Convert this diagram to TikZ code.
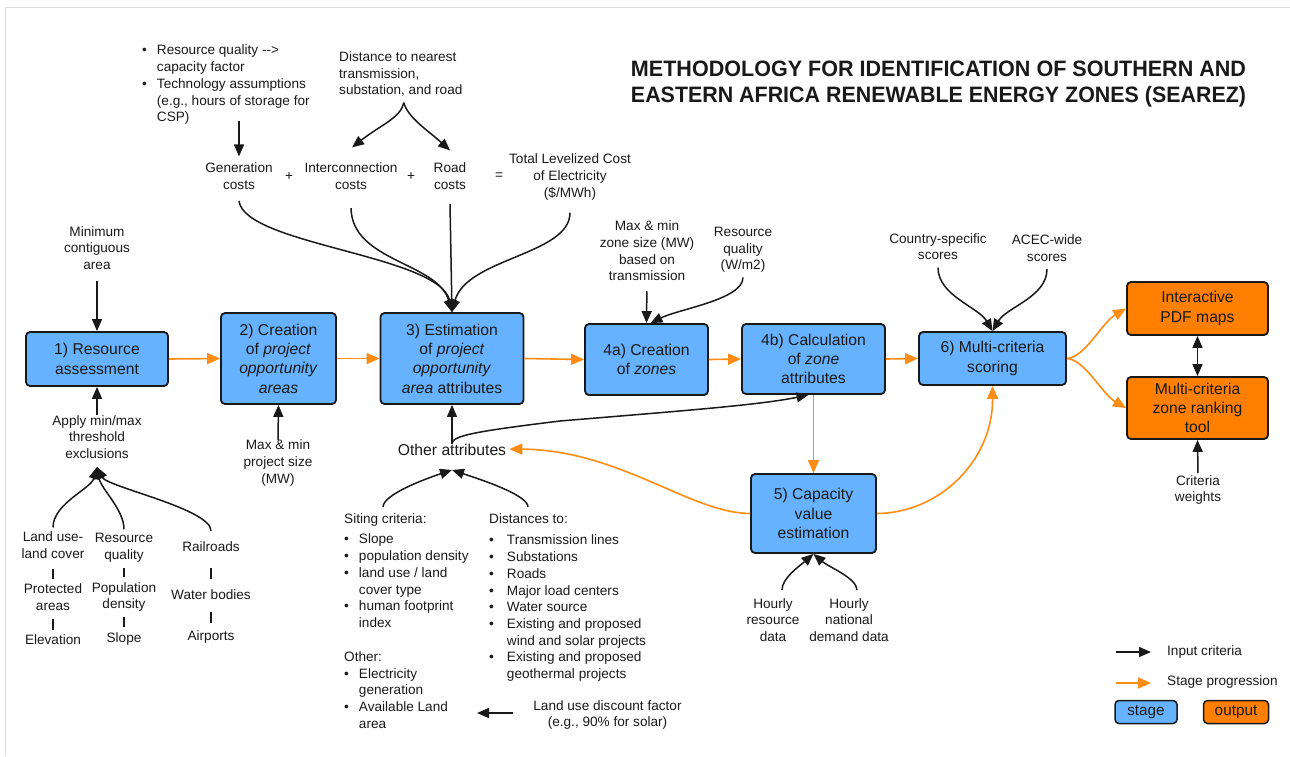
\documentclass[tikz,border=0pt]{standalone}
\usepackage{fontspec}
\setmainfont{Liberation Sans}
\usetikzlibrary{arrows.meta,calc}
\definecolor{stageblue}{RGB}{102,178,255}
\definecolor{outorange}{RGB}{255,128,0}
\definecolor{progorange}{RGB}{255,140,20}
\definecolor{ink}{RGB}{25,25,25}
\definecolor{framegray}{RGB}{222,222,222}
\newcommand{\lblfont}{\fontsize{13.6}{16.7}\selectfont}
\newcommand{\boxfont}{\fontsize{15.7}{19.3}\selectfont}
\newcommand{\ttlfont}{\fontsize{22.3}{26}\selectfont\bfseries}
\begin{document}
\begin{tikzpicture}[x=1pt,y=-1pt,
  stagebox/.style={draw=ink, line width=1.8pt, rounded corners=4pt, fill=stageblue, align=center, font=\boxfont, text=ink, inner sep=0pt},
  outbox/.style={stagebox, fill=outorange},
  lbl/.style={align=center, font=\lblfont, text=ink, inner sep=0pt},
  inarr/.style={draw=ink, line width=1.5pt, -{Triangle[length=12pt,width=10pt]}},
  inline/.style={draw=ink, line width=1.5pt},
  progarr/.style={draw=progorange, line width=1.6pt, -{Triangle[length=13pt,width=11pt]}},
]
\useasboundingbox (0,0) rectangle (1290,756);
\draw[framegray, line width=1pt] (5.5,756) -- (5.5,7.5) -- (1290,7.5);

% title
\node[font=\ttlfont, text=ink, inner sep=0pt, anchor=base] (title1) at (938.5,76.5) {\resizebox{615pt}{\height}{METHODOLOGY FOR IDENTIFICATION OF SOUTHERN AND}};
\node[font=\ttlfont, text=ink, inner sep=0pt, anchor=base] (title2) at (938.5,102.5) {\resizebox{615pt}{\height}{EASTERN AFRICA RENEWABLE ENERGY ZONES (SEAREZ)}};

% stage boxes
\node[stagebox, minimum width=142pt, minimum height=54pt] (b1) at (97,359) {1) Resource\\assessment};
\node[stagebox, minimum width=115pt, minimum height=91pt] (b2) at (278.5,358.5) {2) Creation\\of \textit{project}\\\textit{opportunity}\\\textit{areas}};
\node[stagebox, minimum width=143pt, minimum height=91pt] (b3) at (452,358.5) {3) Estimation\\of \textit{project}\\\textit{opportunity}\\\textit{area} attributes};
\node[stagebox, minimum width=123pt, minimum height=71pt] (b4a) at (646.5,359.5) {4a) Creation\\of \textit{zones}};
\node[stagebox, minimum width=143pt, minimum height=70pt] (b4b) at (813.5,359) {4b) Calculation\\of \textit{zone}\\attributes};
\node[stagebox, minimum width=147pt, minimum height=53pt] (b6) at (992.5,358.5) {6) Multi-criteria\\scoring};
\node[stagebox, minimum width=125pt, minimum height=79pt] (b5) at (813.5,513.5) {5) Capacity\\value\\estimation};
\node[outbox, minimum width=141pt, minimum height=53pt] (o1) at (1197.5,308.5) {Interactive\\PDF maps};
\node[outbox, minimum width=141pt, minimum height=62pt] (o2) at (1197.5,408) {Multi-criteria\\zone ranking\\tool};

% top labels
\node[lbl, anchor=west] (tl) at (142,85) {\begin{tabular}{@{}l@{\hspace{10pt}}l@{}}\textbullet & Resource quality -{}->\\ & capacity factor\\ \textbullet & Technology assumptions\\ & (e.g., hours of storage for\\ & CSP)\end{tabular}};
\node[lbl, align=left, anchor=west] (dist) at (339,74) {Distance to nearest\\transmission,\\substation, and road};
\node[lbl] (gen) at (239,176) {Generation\\costs};
\node[lbl] (p1) at (289,177) {+};
\node[lbl] (inter) at (351,176) {Interconnection\\costs};
\node[lbl] (p2) at (411,177) {+};
\node[lbl] (road) at (450,176) {Road\\costs};
\node[lbl] (eq) at (499,176) {=};
\node[lbl] (total) at (570,177) {Total Levelized Cost\\of Electricity\\(\$/MWh)};

% left column
\node[lbl] (minarea) at (97,248) {Minimum\\contiguous\\area};
\node[lbl] (apply) at (97,437) {Apply min/max\\threshold\\exclusions};
\node[lbl] (lu) at (53,545) {Land use-\\land cover};
\node[lbl] (rq) at (124,548) {Resource\\quality};
\node[lbl] (rr) at (211,547) {Railroads};
\node[lbl] (pa) at (53,597) {Protected\\areas};
\node[lbl] (pd) at (124,597) {Population\\density};
\node[lbl] (wb) at (211,595) {Water bodies};
\node[lbl] (el) at (53,640) {Elevation};
\node[lbl] (sl) at (124,639) {Slope};
\node[lbl] (ap) at (211,637) {Airports};

\node[lbl] (maxproj) at (278,463) {Max \& min\\project size\\(MW)};
\node[lbl, font=\boxfont] (other) at (452,450) {Other attributes};

\node[lbl, anchor=north west] (siting) at (344,512) {\begin{tabular}{@{}l@{\hspace{10pt}}l@{}}
\multicolumn{2}{@{}l@{}}{Siting criteria:}\\[3.3pt]
\textbullet & Slope\\
\textbullet & population density\\
\textbullet & land use / land\\
 & cover type\\
\textbullet & human footprint\\
 & index\\[17.3pt]
\multicolumn{2}{@{}l@{}}{Other:}\\
\textbullet & Electricity\\
 & generation\\
\textbullet & Available Land\\
 & area
\end{tabular}};
\node[lbl, anchor=north west] (distto) at (489,512) {\begin{tabular}{@{}l@{\hspace{13pt}}l@{}}
\multicolumn{2}{@{}l@{}}{Distances to:}\\[4.3pt]
\textbullet & Transmission lines\\
\textbullet & Substations\\
\textbullet & Roads\\
\textbullet & Major load centers\\
\textbullet & Water source\\
\textbullet & Existing and proposed\\
 & wind and solar projects\\
\textbullet & Existing and proposed\\
 & geothermal projects
\end{tabular}};
\node[lbl] (ld) at (607.5,715) {Land use discount factor\\(e.g., 90\% for solar)};
\coordinate (ldend) at (477,713);

% zone labels
\node[lbl] (zs) at (647,251) {Max \& min\\zone size (MW)\\based on\\transmission};
\node[lbl] (rqw) at (743,250) {Resource\\quality\\(W/m2)};
\node[lbl] (cs) at (938,246.5) {Country-specific\\scores};
\node[lbl] (ac) at (1047,248) {ACEC-wide\\scores};
\node[lbl] (cw) at (1198,490) {Criteria\\weights};
\node[lbl] (hr) at (773,620) {Hourly\\resource\\data};
\node[lbl] (hd) at (849,620) {Hourly\\national\\demand data};

% ---------- input connectors ----------
\draw[inarr] ($(tl.south -| gen.north)+(0,-6)$) -- ($(gen.north)+(0,-6)$);
\coordinate (br) at ($(dist.south)+(3,6)$);
\draw[inarr] (br) .. controls +(-3,15) and +(28,-22) .. ($(inter.north)+(1,-15)$);
\draw[inarr] (br) .. controls +(4,15) and +(-22,-20) .. ($(road.north)+(0,-12)$);

\draw[inarr] ($(gen.south)+(0,11.5)$) .. controls (245,245) and (440,255) .. (b3.north);
\draw[inarr] ($(inter.south)+(0,18.5)$) .. controls (352,262) and (438,262) .. (b3.north);
\draw[inarr] ($(road.south)+(0,14.5)$) -- (b3.north);
\draw[inarr] ($(total.south)+(0,12.5)$) .. controls (570,255) and (466,258) .. (b3.north);

\draw[inarr, shorten <=11pt] (minarea.south) -- (b1.north);
\draw[inarr] (apply.north) -- (b1.south);
\coordinate (applytip) at ($(apply.south)+(0,8)$);
\draw[inarr, shorten <=4pt] (lu.north) .. controls +(0,-28) and +(-6,22) .. (applytip);
\draw[inarr, shorten <=4pt] (rq.north) .. controls +(0,-24) and +(4,22) .. (applytip);
\draw[inarr] ($(rr.north)+(0,-11)$) .. controls +(0,-22) and +(10,20) .. (applytip);
\draw[inline] ($(lu.south |- pa.north)+(0,-14)$) -- ($(pa.north)+(0,-4)$);
\draw[inline] ($(rq.south |- pd.north)+(0,-14)$) -- ($(pd.north)+(0,-5)$);
\draw[inline] ($(pa.south |- el.north)+(0,-16)$) -- ($(el.north)+(0,-5)$);
\draw[inline] ($(pd.south |- sl.north)+(0,-15)$) -- ($(sl.north)+(0,-5)$);
\draw[inline] ($(rr.south |- wb.north)+(0,-22)$) -- ($(wb.north)+(0,-11)$);
\draw[inline] ($(wb.south |- ap.north)+(0,-18)$) -- ($(ap.north)+(0,-7)$);

\draw[inarr] (maxproj.north) -- (b2.south);
\draw[inarr] (other.north) -- (b3.south);
\draw[inarr] (other.north) .. controls +(0,-8) and (470,432) .. (560,421) .. controls (680,411) and (760,405) .. ($(b4b.south)+(-5,0)$);

\coordinate (othertip) at ($(other.south)+(0,14)$);
\draw[inarr] ($(siting.north west)+(39,-5)$) .. controls +(0,-12) and +(-30,10) .. (othertip);
\draw[inarr] ($(distto.north west)+(39,-5)$) .. controls +(0,-12) and +(30,10) .. (othertip);
\draw[inarr] ($(ld.west)+(-20,-2)$) -- (ldend);

\draw[inarr, shorten <=10pt] (zs.south) -- (b4a.north);
\draw[inarr] ($(rqw.south)+(0,4.5)$) .. controls +(0,22) and +(28,-14) .. ($(b4a.north)+(4,0)$);
\draw[inarr] ($(cs.south)+(0,7.5)$) .. controls +(0,28) and +(-14,-24) .. (b6.north);
\draw[inarr] ($(ac.south)+(0,7.5)$) .. controls +(0,28) and +(14,-24) .. (b6.north);
\draw[inarr, shorten <=2pt] (cw.north) -- (o2.south);
\draw[draw=ink, line width=1.5pt, {Triangle[length=12pt,width=10pt]}-{Triangle[length=12pt,width=10pt]}] (o1.south) -- (o2.north);
\coordinate (b5tip) at ($(b5.south)+(0,0)$);
\draw[inarr] ($(hr.north)+(9,-8)$) .. controls +(0,-12) and +(-15,13) .. (b5tip);
\draw[inarr] ($(hd.north)+(8,-8)$) .. controls +(0,-12) and +(15,13) .. (b5tip);

% ---------- stage progression ----------
\draw[progarr] (b1.east) -- (b2.west);
\draw[progarr] (b2.east) -- (b3.west);
\draw[progarr] (b3.east) -- (b4a.west);
\draw[progarr] (b4a.east) -- (b4b.west);
\draw[progarr] (b4b.east) -- (b6.west);
\draw[progarr] (b4b.south) -- (b5.north);
\draw[progarr] (b5.west) .. controls (690,513) and (620,450) .. ($(other.east)+(3,-1)$);
\draw[progarr] (b5.east) .. controls (940,513) and (993,460) .. (b6.south);
\draw[progarr] (b6.east) .. controls +(18,-1) and +(-24,14) .. (o1.west);
\draw[progarr] (b6.east) .. controls +(18,1) and +(-24,-14) .. (o2.west);

% ---------- legend ----------
\coordinate (lgA) at (1116,652);
\coordinate (lgB) at (1151,652);
\coordinate (lgC) at (1116,683);
\coordinate (lgD) at (1151,683);
\draw[inarr] (lgA) -- (lgB);
\draw[progarr] (lgC) -- (lgD);
\node[lbl, anchor=west] (lgt1) at (1167,652) {Input criteria};
\node[lbl, anchor=west] (lgt2) at (1167,682) {Stage progression};
\node[stagebox, line width=1.5pt, minimum width=62pt, minimum height=23pt, font=\fontsize{15.3}{18}\selectfont] (lgs) at (1146,712) {stage};
\node[outbox, line width=1.5pt, minimum width=65pt, minimum height=23pt, font=\fontsize{15.3}{18}\selectfont] (lgo) at (1236,712) {output};
\end{tikzpicture}
\end{document}
